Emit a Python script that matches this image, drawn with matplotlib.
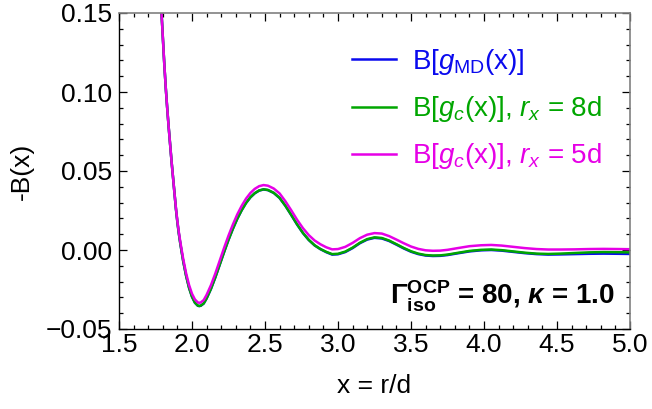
import matplotlib
matplotlib.use("Agg")
import matplotlib.pyplot as plt
from matplotlib.ticker import MultipleLocator, FuncFormatter

plt.rcParams['font.family'] = ['Liberation Sans', 'DejaVu Sans']
plt.rcParams['mathtext.fontset'] = 'custom'
plt.rcParams['mathtext.rm'] = 'Liberation Sans'
plt.rcParams['mathtext.it'] = 'Liberation Sans:italic'
plt.rcParams['mathtext.bf'] = 'Liberation Sans:bold'
plt.rcParams['mathtext.bfit'] = 'Liberation Sans:italic:bold'

# ---- data ----
x = [1.785, 1.79, 1.80, 1.81, 1.82, 1.83, 1.84, 1.85, 1.86, 1.87, 1.88, 1.89, 1.90,
     1.91, 1.92, 1.94, 1.96, 1.98, 2.00, 2.02, 2.04, 2.05, 2.06, 2.08, 2.10, 2.13,
     2.16, 2.19, 2.22, 2.25, 2.28, 2.31, 2.34, 2.37, 2.40, 2.43, 2.46, 2.49, 2.52,
     2.56, 2.60, 2.64, 2.68, 2.72, 2.76, 2.80, 2.84, 2.88, 2.92, 2.96, 3.00, 3.05,
     3.10, 3.15, 3.20, 3.25, 3.30, 3.35, 3.40, 3.45, 3.50, 3.55, 3.60, 3.65, 3.70,
     3.75, 3.82, 3.90, 3.98, 4.05, 4.12, 4.20, 4.28, 4.36, 4.44, 4.52, 4.62, 4.72,
     4.82, 4.92, 5.00]

b_md = [0.160, 0.152, 0.135, 0.118, 0.103, 0.090, 0.078, 0.067, 0.056, 0.046, 0.036, 0.026, 0.0175,
        0.0103, 0.0040, -0.0072, -0.0165, -0.0240, -0.0296, -0.0334, -0.0353, -0.0355, -0.0353, -0.0339, -0.0307, -0.0246,
        -0.0173, -0.0093, -0.0013, 0.0064, 0.0134, 0.0197, 0.0251, 0.0297, 0.0333, 0.0359, 0.0376, 0.0383, 0.0379,
        0.0361, 0.0329, 0.0279, 0.0221, 0.0161, 0.0107, 0.0063, 0.0029, 0.0005, -0.0014, -0.0029, -0.0027, -0.0013,
        0.0012, 0.0043, 0.0066, 0.0077, 0.0073, 0.0057, 0.0034, 0.0010, -0.0011, -0.0026, -0.0035, -0.0038, -0.0037,
        -0.0032, -0.0021, -0.0009, -0.0002, 0.0000, -0.0004, -0.0012, -0.0020, -0.0026, -0.0029, -0.0028, -0.0026, -0.0024,
        -0.0023, -0.0024, -0.0025]

b_c8 = [0.160, 0.152, 0.135, 0.118, 0.103, 0.090, 0.078, 0.067, 0.056, 0.046, 0.036, 0.026, 0.0175,
        0.0103, 0.0040, -0.0072, -0.0165, -0.0240, -0.0296, -0.0333, -0.0352, -0.0354, -0.0352, -0.0338, -0.0306, -0.0245,
        -0.0172, -0.0092, -0.0012, 0.0065, 0.0135, 0.0198, 0.0252, 0.0298, 0.0334, 0.0360, 0.0377, 0.0384, 0.0380,
        0.0362, 0.0330, 0.0280, 0.0222, 0.0162, 0.0108, 0.0064, 0.0030, 0.0006, -0.0012, -0.0026, -0.0024, -0.0010,
        0.0015, 0.0046, 0.0069, 0.0080, 0.0076, 0.0060, 0.0037, 0.0013, -0.0008, -0.0023, -0.0032, -0.0035, -0.0034,
        -0.0029, -0.0018, -0.0006, 0.0001, 0.0003, -0.0001, -0.0009, -0.0017, -0.0023, -0.0025, -0.0023, -0.0019, -0.0015,
        -0.0013, -0.0014, -0.0015]

b_c5 = [0.160, 0.152, 0.135, 0.118, 0.103, 0.090, 0.078, 0.067, 0.056, 0.046, 0.036, 0.0265, 0.0182,
        0.0112, 0.0051, -0.0058, -0.0149, -0.0222, -0.0277, -0.0313, -0.0332, -0.0334, -0.0332, -0.0317, -0.0284, -0.0222,
        -0.0148, -0.0067, 0.0014, 0.0091, 0.0161, 0.0225, 0.0279, 0.0325, 0.0361, 0.0387, 0.0404, 0.0411, 0.0407,
        0.0389, 0.0358, 0.0308, 0.0251, 0.0191, 0.0138, 0.0094, 0.0060, 0.0036, 0.0017, 0.0004, 0.0006, 0.0020,
        0.0045, 0.0075, 0.0097, 0.0107, 0.0104, 0.0088, 0.0066, 0.0043, 0.0022, 0.0007, -0.0002, -0.0005, -0.0004,
        0.0001, 0.0012, 0.0024, 0.0030, 0.0032, 0.0028, 0.0020, 0.0012, 0.0006, 0.0003, 0.0003, 0.0004, 0.0006,
        0.0007, 0.0006, 0.0005]

labels = [r'B[$g_{\mathrm{MD}}$(x)]',
          r'B[$g_c$(x)], $r_x$ = 8d',
          r'B[$g_c$(x)], $r_x$ = 5d']
colors = ['#0a0aee', '#00a600', '#e600e6']

xticks = [1.5, 2.0, 2.5, 3.0, 3.5, 4.0, 4.5, 5.0]
yticks = [-0.05, 0.00, 0.05, 0.10, 0.15]

# ---- figure ----
W, H = 652, 409
L, R, T, B = 119, 630, 13, 329
fig = plt.figure(figsize=(W / 100, H / 100), dpi=100)
ax = fig.add_axes([L / W, 1 - B / H, (R - L) / W, (B - T) / H])

lines = []
for yy, c, lab in zip([b_md, b_c8, b_c5], colors, labels):
    ln, = ax.plot(x, yy, color=c, lw=1.8, label=lab, solid_joinstyle='round')
    lines.append(ln)

ax.set_xlim(1.5, 5.0)
ax.set_ylim(-0.05, 0.15)
ax.set_xticks(xticks)
ax.set_yticks(yticks)
ax.xaxis.set_major_formatter(FuncFormatter(lambda v, p: ('%.1f' % v).replace('-', '\u2212')))
ax.yaxis.set_major_formatter(FuncFormatter(lambda v, p: ('%.2f' % (0.0 if abs(v) < 1e-12 else v)).replace('-', '\u2212')))
ax.xaxis.set_minor_locator(MultipleLocator(0.1))
ax.yaxis.set_minor_locator(MultipleLocator(0.01))

ax.tick_params(which='both', direction='in', top=True, right=True, labelsize=19, width=0.9)
ax.tick_params(which='major', length=5.5)
ax.tick_params(which='minor', length=3)
ax.tick_params(axis='x', which='major', pad=3)
ax.tick_params(axis='y', which='major', pad=5)

for s in ['left', 'bottom']:
    ax.spines[s].set_color('black')
    ax.spines[s].set_linewidth(1.0)
for s in ['top', 'right']:
    ax.spines[s].set_color('#808080')
    ax.spines[s].set_linewidth(1.2)

ax.set_xlabel('x = r/d', fontsize=19, va='center')
ax.xaxis.set_label_coords(0.5, -(386 - B) / (B - T))
ax.set_ylabel('-B(x)', fontsize=19, va='center')
ax.yaxis.set_label_coords(-(L - 22) / (R - L), 0.5)

leg = ax.legend(handles=lines, loc='upper left',
                bbox_to_anchor=((352 - L) / (R - L), 1 - (47 - T) / (B - T)),
                frameon=False, fontsize=20, labelcolor='linecolor', handlelength=1.58,
                handletextpad=0.58, labelspacing=0.62, borderpad=0, borderaxespad=0)

ax.text((615 - L) / (R - L), (B - 305) / (B - T),
        r'$\mathbf{\Gamma}^{\mathbf{OCP}}_{\mathbf{iso}}$ = 80, $\boldsymbol{\kappa}$ = 1.0',
        transform=ax.transAxes, ha='right', va='baseline', fontsize=20, fontweight='bold')

fig.savefig('out.png', dpi=100)
